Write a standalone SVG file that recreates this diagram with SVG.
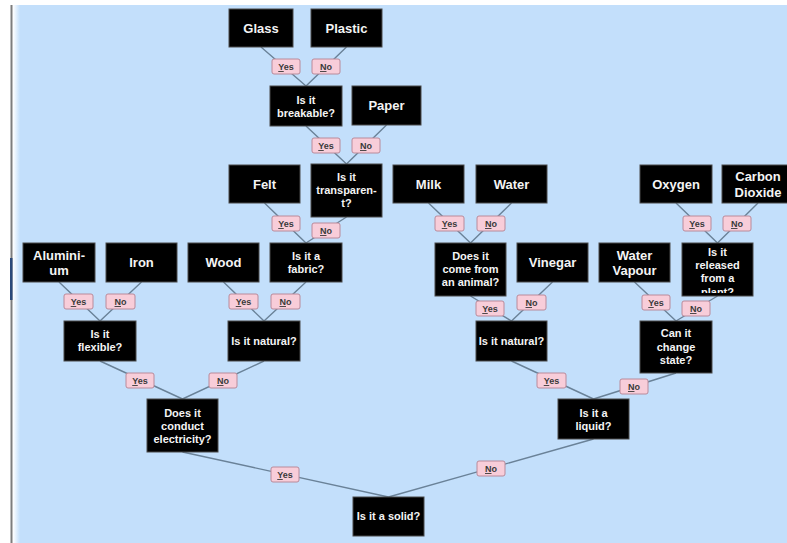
<svg xmlns="http://www.w3.org/2000/svg" width="787" height="543" viewBox="0 0 787 543">
<defs>
<style>
.bg{fill:#c3dffb}
.n{fill:#000;stroke:#4a4a4a;stroke-width:1}
.t{fill:#f4f4f4;font-family:"Liberation Sans",Arial,sans-serif;font-weight:bold;text-anchor:middle}
.q{font-size:11px}
.w{font-size:13px}
.c{stroke:#6a8298;stroke-width:1.4;fill:none}
.lb{fill:#f8cdd9;stroke:#b98a9a;stroke-width:1}
.lt{fill:#3a3a3a;font-family:"Liberation Sans",Arial,sans-serif;font-size:9px;font-weight:bold;text-anchor:middle}
.u{text-decoration:underline}
</style>
<linearGradient id="edge" x1="0" x2="1" y1="0" y2="0">
<stop offset="0" stop-color="#ffffff"/>
<stop offset="1" stop-color="#c3dffb"/>
</linearGradient>
<clipPath id="plantclip"><rect x="682" y="243" width="71" height="50"/></clipPath>
</defs>
<rect x="0" y="0" width="787" height="543" fill="#ffffff"/>
<rect class="bg" x="19" y="5" width="768" height="538"/>
<rect x="13" y="5" width="7" height="538" fill="url(#edge)"/>
<rect x="10.5" y="5" width="2" height="538" fill="#7d7d7d"/>
<rect x="10" y="258" width="2.5" height="42" fill="#2c4a7a"/>

<g id="connectors">
<path class="c" d="M261 47L306 86M346.5 47L306 86"/>
<path class="c" d="M306 126L346.5 164M386.5 125L346.5 164"/>
<path class="c" d="M264.5 203L306 243M346.5 217L306 243"/>
<path class="c" d="M59 282L100 321M141.5 282L100 321"/>
<path class="c" d="M223.5 282L264 321M306 282L264 321"/>
<path class="c" d="M100 361L182.5 399M264 361L182.5 399"/>
<path class="c" d="M182.5 452L388.5 497M593.5 439L388.5 497"/>
<path class="c" d="M428.5 203L470.5 243M511.5 203L470.5 243"/>
<path class="c" d="M470.5 296L511.5 321M552.5 282L511.5 321"/>
<path class="c" d="M676 203L717.5 243M758 203L717.5 243"/>
<path class="c" d="M634.5 282L676 321M717.5 296L676 321"/>
<path class="c" d="M511.5 361L593.5 399M676 373L593.5 399"/>
<g id="labels">
<rect class="lb" x="272" y="59" width="28" height="15" rx="2"/><text class="lt" x="286" y="70"><tspan class="u">Y</tspan>es</text>
<rect class="lb" x="312" y="59" width="28" height="15" rx="2"/><text class="lt" x="326" y="70"><tspan class="u">N</tspan>o</text>
<rect class="lb" x="312" y="138" width="28" height="15" rx="2"/><text class="lt" x="326" y="149"><tspan class="u">Y</tspan>es</text>
<rect class="lb" x="352" y="138" width="28" height="15" rx="2"/><text class="lt" x="366" y="149"><tspan class="u">N</tspan>o</text>
<rect class="lb" x="272" y="216" width="28" height="15" rx="2"/><text class="lt" x="286" y="227"><tspan class="u">Y</tspan>es</text>
<rect class="lb" x="312" y="223" width="28" height="15" rx="2"/><text class="lt" x="326" y="234"><tspan class="u">N</tspan>o</text>
<rect class="lb" x="435" y="216" width="29" height="15" rx="2"/><text class="lt" x="449.5" y="227"><tspan class="u">Y</tspan>es</text>
<rect class="lb" x="477" y="216" width="28" height="15" rx="2"/><text class="lt" x="491" y="227"><tspan class="u">N</tspan>o</text>
<rect class="lb" x="683" y="216" width="28" height="15" rx="2"/><text class="lt" x="697" y="227"><tspan class="u">Y</tspan>es</text>
<rect class="lb" x="723" y="216" width="28" height="15" rx="2"/><text class="lt" x="737" y="227"><tspan class="u">N</tspan>o</text>
<rect class="lb" x="64" y="294" width="29" height="15" rx="2"/><text class="lt" x="78.5" y="305"><tspan class="u">Y</tspan>es</text>
<rect class="lb" x="106" y="294" width="29" height="15" rx="2"/><text class="lt" x="120.5" y="305"><tspan class="u">N</tspan>o</text>
<rect class="lb" x="229" y="294" width="29" height="15" rx="2"/><text class="lt" x="243.5" y="305"><tspan class="u">Y</tspan>es</text>
<rect class="lb" x="271" y="294" width="29" height="15" rx="2"/><text class="lt" x="285.5" y="305"><tspan class="u">N</tspan>o</text>
<rect class="lb" x="476" y="301" width="28" height="15" rx="2"/><text class="lt" x="490" y="312"><tspan class="u">Y</tspan>es</text>
<rect class="lb" x="517" y="295" width="29" height="15" rx="2"/><text class="lt" x="531.5" y="306"><tspan class="u">N</tspan>o</text>
<rect class="lb" x="642" y="295" width="28" height="15" rx="2"/><text class="lt" x="656" y="306"><tspan class="u">Y</tspan>es</text>
<rect class="lb" x="682" y="301" width="28" height="15" rx="2"/><text class="lt" x="696" y="312"><tspan class="u">N</tspan>o</text>
<rect class="lb" x="126" y="373" width="28" height="15" rx="2"/><text class="lt" x="140" y="384"><tspan class="u">Y</tspan>es</text>
<rect class="lb" x="209" y="373" width="28" height="15" rx="2"/><text class="lt" x="223" y="384"><tspan class="u">N</tspan>o</text>
<rect class="lb" x="537" y="373" width="29" height="15" rx="2"/><text class="lt" x="551.5" y="384"><tspan class="u">Y</tspan>es</text>
<rect class="lb" x="620" y="379" width="28" height="15" rx="2"/><text class="lt" x="634" y="390"><tspan class="u">N</tspan>o</text>
<rect class="lb" x="271" y="467" width="28" height="15" rx="2"/><text class="lt" x="285" y="478"><tspan class="u">Y</tspan>es</text>
<rect class="lb" x="477" y="461" width="28" height="15" rx="2"/><text class="lt" x="491" y="472"><tspan class="u">N</tspan>o</text>
</g>
</g>

<g id="glass"><rect class="n" x="229" y="9" width="64" height="38"/><text class="t w" x="261" y="32.7">Glass</text></g>
<g id="plastic"><rect class="n" x="311" y="9" width="71" height="38"/><text class="t w" x="346.5" y="32.7">Plastic</text></g>
<g id="breakable"><rect class="n" x="270" y="86" width="72" height="40"/><text class="t q" x="306" y="104">Is it</text><text class="t q" x="306" y="117">breakable?</text></g>
<g id="paper"><rect class="n" x="352" y="86" width="69" height="39"/><text class="t w" x="386.5" y="110">Paper</text></g>
<g id="felt"><rect class="n" x="229" y="165" width="71" height="38"/><text class="t w" x="264.5" y="188.7">Felt</text></g>
<g id="transparent"><rect class="n" x="311" y="164" width="71" height="53"/><text class="t q" x="346.5" y="181">Is it</text><text class="t q" x="346.5" y="194">transparen-</text><text class="t q" x="346.5" y="207">t?</text></g>
<g id="milk"><rect class="n" x="393" y="165" width="71" height="38"/><text class="t w" x="428.5" y="188.7">Milk</text></g>
<g id="water"><rect class="n" x="476" y="165" width="71" height="38"/><text class="t w" x="511.5" y="188.7">Water</text></g>
<g id="oxygen"><rect class="n" x="640" y="165" width="72" height="38"/><text class="t w" x="676" y="188.7">Oxygen</text></g>
<g id="carbon-dioxide"><rect class="n" x="722" y="165" width="72" height="38"/><text class="t w" x="758" y="180.7">Carbon</text><text class="t w" x="758" y="196.7">Dioxide</text></g>
<g id="aluminium"><rect class="n" x="23" y="243" width="72" height="39"/><text class="t w" x="59" y="259.7">Alumini-</text><text class="t w" x="59" y="275.4">um</text></g>
<g id="iron"><rect class="n" x="106" y="243" width="71" height="39"/><text class="t w" x="141.5" y="267.2">Iron</text></g>
<g id="wood"><rect class="n" x="188" y="243" width="71" height="39"/><text class="t w" x="223.5" y="267.2">Wood</text></g>
<g id="fabric"><rect class="n" x="270" y="243" width="72" height="39"/><text class="t q" x="306" y="260">Is it a</text><text class="t q" x="306" y="273">fabric?</text></g>
<g id="animal"><rect class="n" x="435" y="243" width="71" height="53"/><text class="t q" x="470.5" y="260">Does it</text><text class="t q" x="470.5" y="273">come from</text><text class="t q" x="470.5" y="286">an animal?</text></g>
<g id="vinegar"><rect class="n" x="517" y="243" width="71" height="39"/><text class="t w" x="552.5" y="267.2">Vinegar</text></g>
<g id="water-vapour"><rect class="n" x="599" y="243" width="71" height="39"/><text class="t w" x="634.5" y="259.7">Water</text><text class="t w" x="634.5" y="275.4">Vapour</text></g>
<g id="plant"><rect class="n" x="682" y="243" width="71" height="53"/><g clip-path="url(#plantclip)"><text class="t q" x="717.5" y="256">Is it</text><text class="t q" x="717.5" y="269">released</text><text class="t q" x="717.5" y="282">from a</text><text class="t q" x="717.5" y="296">plant?</text></g></g>
<g id="flexible"><rect class="n" x="64" y="321" width="72" height="40"/><text class="t q" x="100" y="338">Is it</text><text class="t q" x="100" y="351">flexible?</text></g>
<g id="natural-left"><rect class="n" x="228" y="321" width="72" height="40"/><text class="t q" x="264" y="345">Is it natural?</text></g>
<g id="natural-right"><rect class="n" x="476" y="321" width="71" height="40"/><text class="t q" x="511.5" y="345">Is it natural?</text></g>
<g id="change-state"><rect class="n" x="640" y="321" width="72" height="52"/><text class="t q" x="676" y="337">Can it</text><text class="t q" x="676" y="350.5">change</text><text class="t q" x="676" y="364">state?</text></g>
<g id="conduct"><rect class="n" x="147" y="399" width="71" height="53"/><text class="t q" x="182.5" y="416.5">Does it</text><text class="t q" x="182.5" y="429.5">conduct</text><text class="t q" x="182.5" y="443">electricity?</text></g>
<g id="liquid"><rect class="n" x="558" y="399" width="71" height="40"/><text class="t q" x="593.5" y="416.5">Is it a</text><text class="t q" x="593.5" y="429.5">liquid?</text></g>
<g id="solid"><rect class="n" x="353" y="497" width="71" height="39"/><text class="t q" x="388.5" y="520">Is it a solid?</text></g>
</svg>
